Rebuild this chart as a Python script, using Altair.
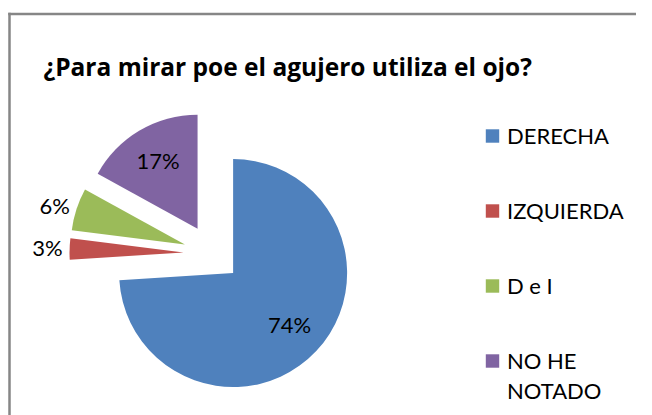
import altair as alt
import pandas as pd

categories = ["DERECHA", "IZQUIERDA", "D e I", "NO HE NOTADO"]
values = [74, 3, 6, 17]
legend_labels = ["DERECHA", "IZQUIERDA", "D e I", "NO HE\nNOTADO"]
colors = ["#4F81BD", "#C0504D", "#9BBB59", "#8064A2"]
title_text = "¿Para mirar poe el agujero utiliza el ojo?"

df = pd.DataFrame({
    "idx": list(range(len(categories))),
    "cat": categories,
    "value": values,
    "legend": legend_labels,
})

CX, CY, R, EXPL = 204.2, 245.4, 114, 28.7
FONT = "Lato"

base = alt.Chart(df).transform_window(
    cum="sum(value)", sort=[alt.SortField("idx")], frame=[None, 0]
).transform_joinaggregate(
    total="sum(value)"
).transform_calculate(
    t1="datum.cum / datum.total * 2 * PI",
    t0="(datum.cum - datum.value) / datum.total * 2 * PI",
).transform_calculate(
    mid="(datum.t0 + datum.t1) / 2"
).transform_calculate(
    cx=f"{CX} + {EXPL} * sin(datum.mid)",
    cy=f"{CY} - {EXPL} * cos(datum.mid)",
    pct="datum.value + '%'",
)

color = alt.Color("cat:N", scale=alt.Scale(domain=categories, range=colors), legend=None)

arcs = base.mark_arc(radius=R).encode(
    theta=alt.Theta("t0:Q", scale=None),
    theta2="t1:Q",
    x=alt.X("cx:Q", scale=None, axis=None),
    y=alt.Y("cy:Q", scale=None, axis=None),
    color=color,
)

inside = base.transform_filter("datum.value >= 10").transform_calculate(
    lx=f"datum.cx + {R * 0.68} * sin(datum.mid)",
    ly=f"datum.cy - {R * 0.68} * cos(datum.mid)",
).mark_text(font=FONT, fontSize=22, color="black", align="center", baseline="middle").encode(
    x=alt.X("lx:Q", scale=None, axis=None),
    y=alt.Y("ly:Q", scale=None, axis=None),
    text="pct:N",
)

outside = base.transform_filter("datum.value < 10").transform_calculate(
    lx=f"datum.cx + {R + 7} * sin(datum.mid)",
    ly=f"datum.cy - {R + 7} * cos(datum.mid)",
).mark_text(font=FONT, fontSize=22, color="black", align="right", baseline="middle").encode(
    x=alt.X("lx:Q", scale=None, axis=None),
    y=alt.Y("ly:Q", scale=None, axis=None),
    text="pct:N",
)

leg = alt.Chart(df).transform_calculate(
    sy="128 + datum.idx * 75",
    ty="118.6 + datum.idx * 75",
)

leg_sq = leg.mark_square(size=180, opacity=1).encode(
    x=alt.value(484.5),
    y=alt.Y("sy:Q", scale=None, axis=None),
    color=color,
)

leg_txt = leg.mark_text(font=FONT, fontSize=22, color="black", align="left",
                        baseline="top", lineBreak="\n", lineHeight=30.7).encode(
    x=alt.value(499),
    y=alt.Y("ty:Q", scale=None, axis=None),
    text="legend:N",
)

one = alt.Chart(pd.DataFrame({"a": [0]}))
border_top = one.mark_rule(stroke="#868686", strokeWidth=2.5).encode(
    x=alt.value(0.25), x2=alt.value(628), y=alt.value(6)
)
border_left = one.mark_rule(stroke="#868686", strokeWidth=2.5).encode(
    x=alt.value(1.5), y=alt.value(4.75), y2=alt.value(407)
)
title = one.mark_text(font="Open Sans", fontSize=24.5, fontWeight="bold", color="black",
                      align="left", baseline="alphabetic").encode(
    x=alt.value(35.5), y=alt.value(68), text=alt.value(title_text)
)

chart = alt.layer(border_top, border_left, title, arcs, inside, outside, leg_sq, leg_txt).properties(
    width=636, height=407, autosize=alt.AutoSizeParams(type="none"), padding=0,
).configure_view(stroke=None)

chart.save("out.html", embed_options={"renderer": "svg", "actions": False})
